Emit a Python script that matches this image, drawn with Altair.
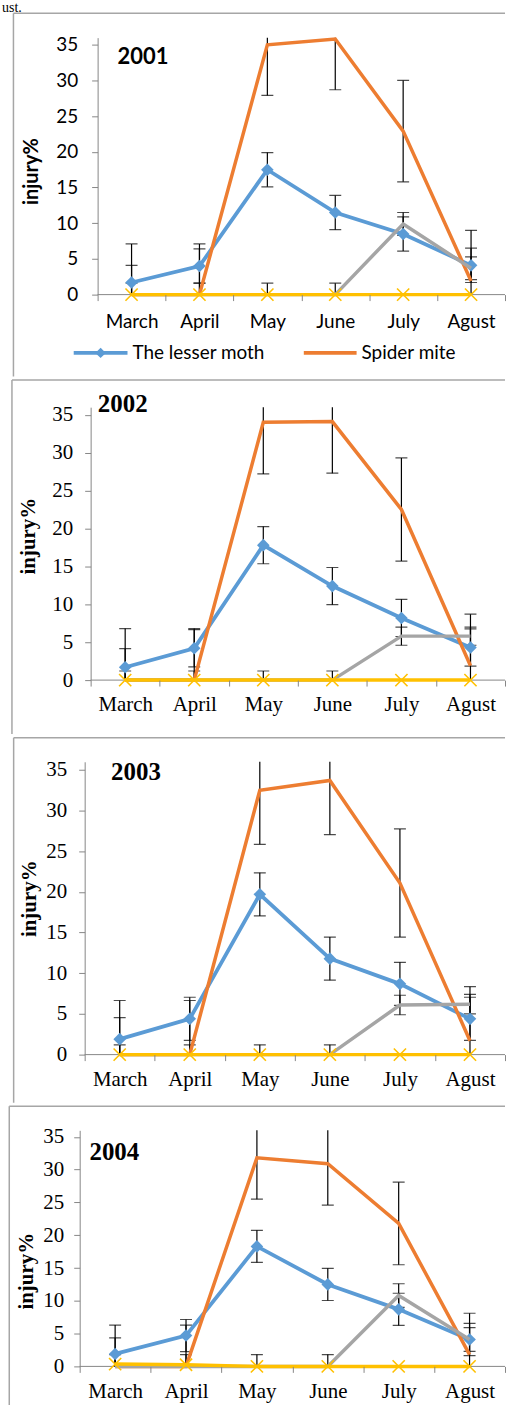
import altair as alt
import pandas as pd

# ---------------- data ----------------
months = ["March", "April", "May", "June", "July", "Agust"]
years = ["2001", "2002", "2003", "2004"]
series_names = ["The lesser moth", "Spider mite", "Series 3", "Series 4"]

moth_2001 = [1.7, 4.0, 17.5, 11.5, 8.5, 4.1]
mite_2001 = [0.0, 0.0, 35.0, 35.8, 22.9, 1.9]
s3_2001 = [0.0, 0.0, 0.0, 0.0, 9.9, 3.7]
s4_2001 = [0.0, 0.0, 0.0, 0.0, 0.0, 0.0]
err_2001 = [2.4, 7.1, 1.6]

moth_2002 = [1.7, 4.2, 17.8, 12.4, 8.2, 4.3]
mite_2002 = [0.0, 0.0, 34.0, 34.1, 22.5, 1.9]
s3_2002 = [0.0, 0.0, 0.0, 0.0, 5.8, 5.8]
s4_2002 = [0.0, 0.0, 0.0, 0.0, 0.0, 0.0]
err_2002 = [2.45, 6.8, 1.2]

moth_2003 = [1.9, 4.4, 19.7, 11.8, 8.7, 4.4]
mite_2003 = [0.0, 0.0, 32.5, 33.7, 21.1, 1.7]
s3_2003 = [0.0, 0.0, 0.0, 0.0, 6.1, 6.2]
s4_2003 = [0.0, 0.0, 0.0, 0.0, 0.0, 0.0]
err_2003 = [2.65, 6.65, 1.2]

moth_2004 = [1.9, 4.7, 18.3, 12.5, 8.7, 4.1]
mite_2004 = [0.0, 0.0, 31.8, 30.9, 21.8, 1.8]
s3_2004 = [0.0, 0.0, 0.0, 0.0, 10.8, 4.1]
s4_2004 = [0.35, 0.25, 0.0, 0.0, 0.0, 0.0]
err_2004 = [2.45, 6.3, 1.8]

y_ticks = [0, 5, 10, 15, 20, 25, 30, 35]

# ---------------- styles / layout ----------------
BLUE, ORANGE, GRAY, YELLOW = "#5B9BD5", "#ED7D31", "#A5A5A5", "#FFC000"
AXIS_GRAY = "#868686"
BOX_GRAY = "#A6A6A6"
PLOT_W = 427
ORIGIN_X = 79
SANS = "Lato"
SERIF = "Liberation Serif"

layouts = [
    dict(H=258, o=18, bt=-37, bb=341, bl=-66.5, btop=-24.5, font=SANS, xfs=19, yfs=19, tfs=20,
         yrfs=22, xlp=21, ylp=14, tx=-66, ty=134, yrx=63.5, yry=19.2),
    dict(H=274, o=11, bt=-28, bb=329, bl=-68, btop=-27.2, font=SERIF, xfs=21, yfs=21, tfs=21,
         yrfs=25, xlp=19, ylp=12, tx=-62, ty=129, yrx=43.2, yry=-3.5),
    dict(H=294, o=5, bt=-25, bb=343, bl=-66.3, btop=-24.2, font=SERIF, xfs=21, yfs=21, tfs=21,
         yrfs=25, xlp=19, ylp=12, tx=-55, ty=137, yrx=56.5, yry=10.7),
    dict(H=237, o=0, bt=-25, bb=277, bl=-70.7, btop=-24.2, font=SERIF, xfs=21, yfs=21, tfs=21,
         yrfs=25, xlp=19, ylp=10, tx=-53, ty=141, yrx=34.8, yry=22),
]

panel_data = [
    (moth_2001, mite_2001, s3_2001, s4_2001, err_2001),
    (moth_2002, mite_2002, s3_2002, s4_2002, err_2002),
    (moth_2003, mite_2003, s3_2003, s4_2003, err_2003),
    (moth_2004, mite_2004, s3_2004, s4_2004, err_2004),
]


def panel_df(moth, mite, s3, s4, errs):
    rows = []
    for name, vals, err in zip(series_names, [moth, mite, s3, s4], list(errs) + [None]):
        for i, (m, v) in enumerate(zip(months, vals)):
            rows.append({"month": m, "idx": i, "series": name, "value": v,
                         "err": err if err is not None else -1})
    return pd.DataFrame(rows)


one = pd.DataFrame({"k": [0]})


def make_panel(k):
    L = layouts[k]
    year = years[k]
    df = panel_df(*panel_data[k])
    font = L["font"]
    o = L["o"]
    po = 3.0 * o / (PLOT_W - o)

    xscale = alt.Scale(type="band", domain=months, paddingInner=0, paddingOuter=po, align=1)
    xaxis = alt.Axis(title=None, domain=False, tickBand="extent", tickSize=6, tickColor=AXIS_GRAY,
                     tickWidth=1, labelAngle=0, labelFont=font, labelFontSize=L["xfs"],
                     labelColor="black", labelPadding=L["xlp"], labelBaseline="middle",
                     grid=False, zindex=1)
    yaxis = alt.Axis(title="injury%", values=y_ticks, domainColor=AXIS_GRAY, domainWidth=1,
                     tickColor=AXIS_GRAY, tickSize=6, tickWidth=1, labelFont=font,
                     labelFontSize=L["yfs"], labelColor="black", labelPadding=L["ylp"],
                     titleFont=font, titleFontSize=L["tfs"], titleFontWeight="bold",
                     titleColor="black", titleX=L["tx"], titleY=L["ty"], titleAngle=270,
                     titleBaseline="middle", titleAlign="center", offset=-o, grid=False,
                     zindex=1)
    yscale = alt.Scale(domain=[0, 36], nice=False, zero=False)
    X = alt.X("month:N", scale=xscale, axis=xaxis, bandPosition=0.5)

    def Y(f):
        return alt.Y(f"{f}:Q", scale=yscale, axis=yaxis)

    layers = []
    # background / bounds
    layers.append(alt.Chart(one).mark_rect(color="white").encode(
        x=alt.value(-ORIGIN_X), x2=alt.value(507 - ORIGIN_X),
        y=alt.value(L["bt"]), y2=alt.value(L["bb"])))
    # box border
    layers.append(alt.Chart(one).mark_rule(color=BOX_GRAY, strokeWidth=1.5).encode(
        x=alt.value(L["bl"]), x2=alt.value(PLOT_W), y=alt.value(L["btop"])))
    layers.append(alt.Chart(one).mark_rule(color=BOX_GRAY, strokeWidth=1.5).encode(
        x=alt.value(L["bl"]), y=alt.value(L["btop"]), y2=alt.value(L["bb"] - 0.8)))
    # x baseline
    layers.append(alt.Chart(one).mark_rule(color=AXIS_GRAY, strokeWidth=1).encode(
        x=alt.value(o), x2=alt.value(PLOT_W), y=alt.value(L["H"])))

    # error bars
    eb = alt.Chart(df).transform_filter("datum.err >= 0").transform_calculate(
        lo="datum.value - datum.err", hi="datum.value + datum.err")
    layers.append(eb.mark_rule(color="black", strokeWidth=1.2, clip=True).encode(
        x=X, y=Y("lo"), y2="hi:Q"))
    layers.append(eb.mark_tick(color="black", thickness=1.2, size=12, clip=True).encode(
        x=X, y=Y("hi")))
    layers.append(eb.mark_tick(color="black", thickness=1.2, size=12, clip=True).encode(
        x=X, y=Y("lo")))

    def series_chart(i):
        return alt.Chart(df).transform_filter(alt.datum.series == series_names[i])

    # blue line + diamonds
    layers.append(series_chart(0).mark_line(color=BLUE, strokeWidth=3.8).encode(
        x=X, y=Y("value"), order="idx:Q"))
    layers.append(series_chart(0).mark_point(shape="diamond", filled=True, size=160,
                                             color=BLUE, opacity=1).encode(x=X, y=Y("value")))
    # orange, gray, yellow
    layers.append(series_chart(1).mark_line(color=ORANGE, strokeWidth=3.5).encode(
        x=X, y=Y("value"), order="idx:Q"))
    layers.append(series_chart(2).mark_line(color=GRAY, strokeWidth=3.5).encode(
        x=X, y=Y("value"), order="idx:Q"))
    layers.append(series_chart(3).mark_line(color=YELLOW, strokeWidth=3.5).encode(
        x=X, y=Y("value"), order="idx:Q"))
    layers.append(series_chart(3).mark_point(shape="M-1,-1L1,1M1,-1L-1,1", filled=False,
                                             size=150, color=YELLOW, strokeWidth=1.6,
                                             opacity=1).encode(x=X, y=Y("value")))

    # year label
    layers.append(alt.Chart(one).mark_text(text=year, font=font, fontSize=L["yrfs"],
                                           fontWeight="bold", align="center",
                                           baseline="middle", color="black").encode(
        x=alt.value(L["yrx"]), y=alt.value(L["yry"])))

    if k == 0:
        ly = 316.5
        # legend
        layers.append(alt.Chart(one).mark_rule(color=BLUE, strokeWidth=3.8).encode(
            x=alt.value(-6), x2=alt.value(48), y=alt.value(ly)))
        layers.append(alt.Chart(one).mark_point(shape="diamond", filled=True, size=110,
                                                color=BLUE, opacity=1).encode(
            x=alt.value(21), y=alt.value(ly)))
        layers.append(alt.Chart(one).mark_text(text=series_names[0], font=SANS, fontSize=19,
                                               align="left", baseline="middle",
                                               color="black").encode(
            x=alt.value(53), y=alt.value(ly)))
        layers.append(alt.Chart(one).mark_rule(color=ORANGE, strokeWidth=3.8).encode(
            x=alt.value(225), x2=alt.value(278), y=alt.value(ly)))
        layers.append(alt.Chart(one).mark_text(text=series_names[1], font=SANS, fontSize=19,
                                               align="left", baseline="middle",
                                               color="black").encode(
            x=alt.value(283), y=alt.value(ly)))
        # caption fragment at the very top
        layers.append(alt.Chart(one).mark_text(text="ust.", font=SERIF, fontSize=14,
                                               align="left", baseline="alphabetic",
                                               color="black").encode(
            x=alt.value(-ORIGIN_X + 1), y=alt.value(-26)))

    return alt.layer(*layers).properties(width=PLOT_W, height=L["H"])


chart = alt.vconcat(*[make_panel(k) for k in range(4)], spacing=0).properties(
    padding={"left": 0, "right": 0, "top": -3, "bottom": 0},
    background="white",
).configure_view(stroke="transparent")

chart.save("out.html", embed_options={"renderer": "svg", "actions": False})
